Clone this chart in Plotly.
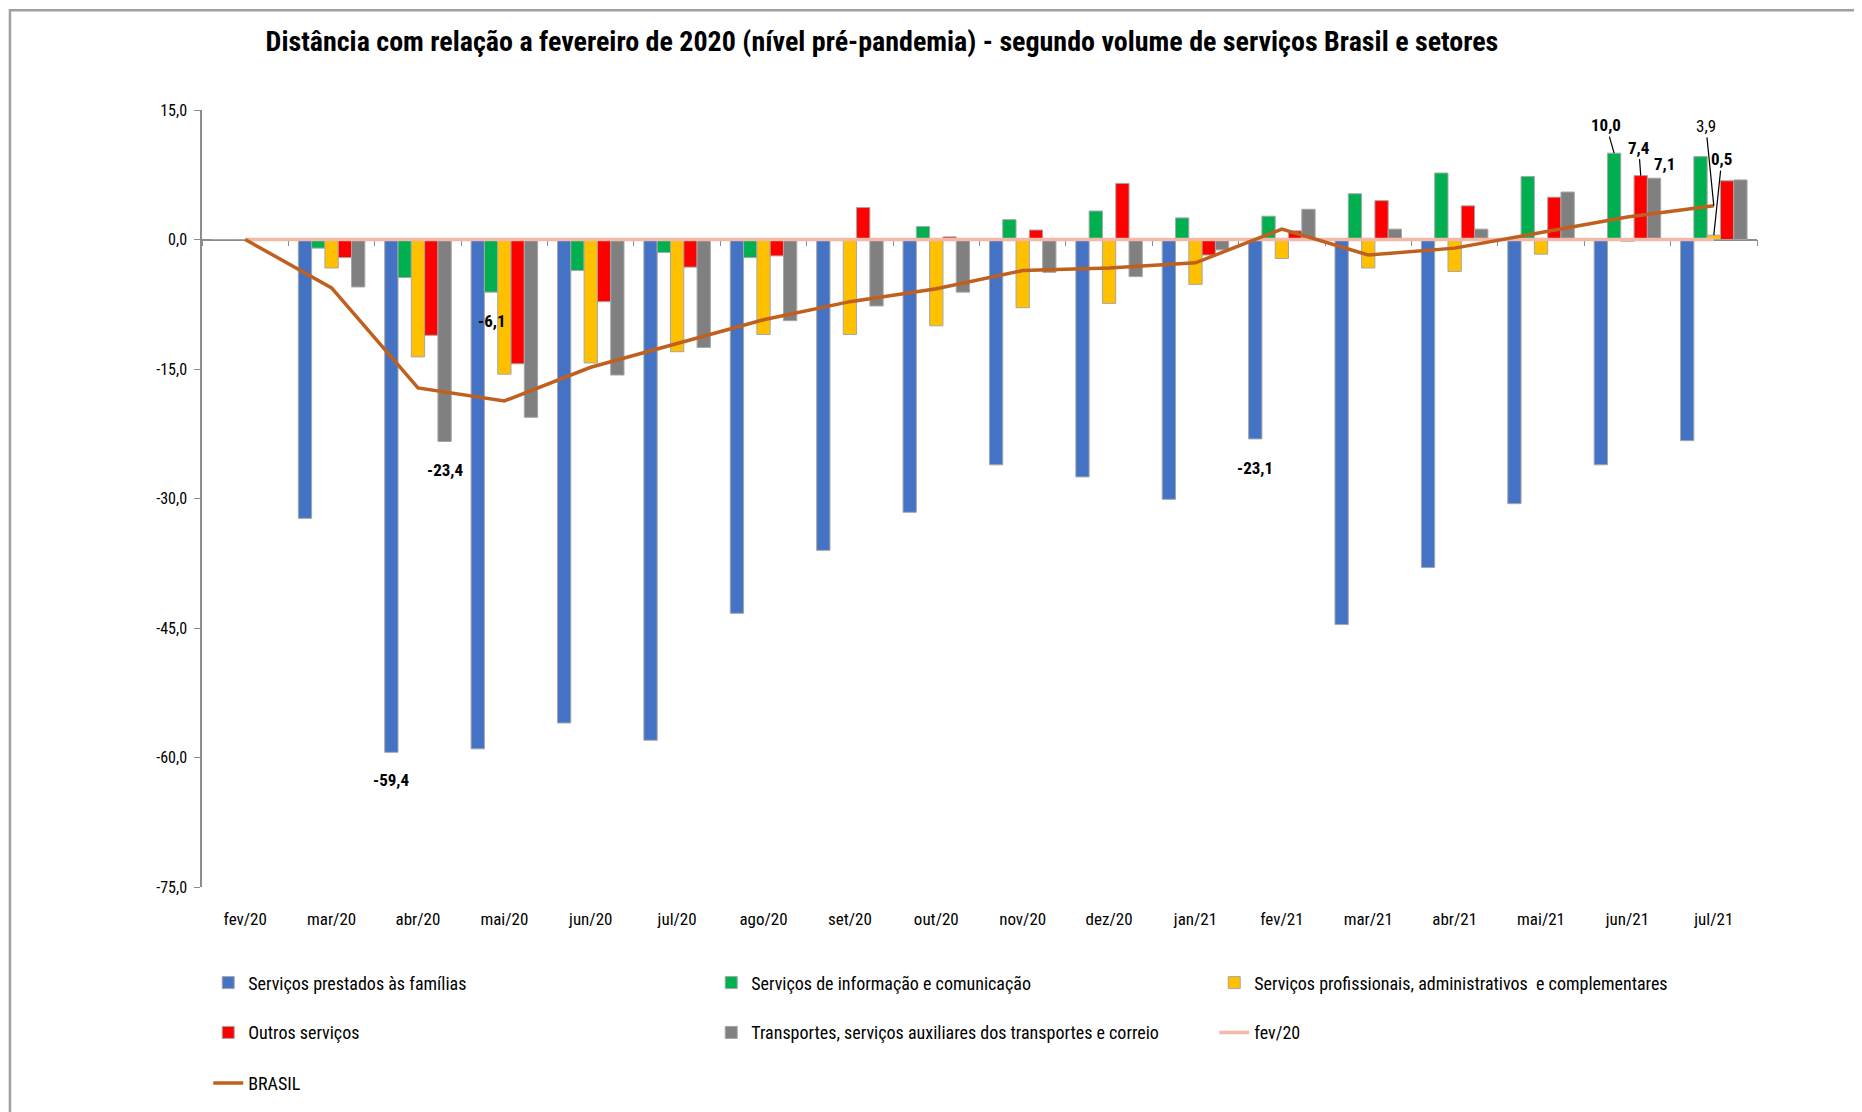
import plotly.graph_objects as go

# Dados (variação % em relação a fev/20)
meses = ["fev/20", "mar/20", "abr/20", "mai/20", "jun/20", "jul/20", "ago/20", "set/20", "out/20",
         "nov/20", "dez/20", "jan/21", "fev/21", "mar/21", "abr/21", "mai/21", "jun/21", "jul/21"]

familias = [0, -32.3, -59.4, -59.0, -56.0, -58.0, -43.3, -36.0, -31.6,
            -26.1, -27.5, -30.1, -23.1, -44.6, -38.0, -30.6, -26.1, -23.3]
informacao = [0, -1.0, -4.4, -6.1, -3.6, -1.5, -2.1, 0.0, 1.5,
              2.3, 3.3, 2.5, 2.7, 5.3, 7.7, 7.3, 10.0, 9.6]
profissionais = [0, -3.3, -13.6, -15.6, -14.3, -13.0, -11.0, -11.0, -10.0,
                 -7.9, -7.4, -5.2, -2.2, -3.3, -3.7, -1.7, -0.2, 0.5]
outros = [0, -2.1, -11.1, -14.4, -7.2, -3.2, -1.9, 3.7, 0.3,
          1.1, 6.5, -1.8, 1.0, 4.5, 3.9, 4.9, 7.4, 6.8]
transportes = [0, -5.5, -23.4, -20.6, -15.7, -12.5, -9.4, -7.7, -6.1,
               -3.8, -4.3, -1.2, 3.5, 1.2, 1.2, 5.5, 7.1, 6.9]
brasil = [0, -5.6, -17.2, -18.7, -14.8, -12.0, -9.3, -7.2, -5.7,
          -3.6, -3.3, -2.7, 1.2, -1.8, -1.0, 0.8, 2.6, 3.9]
base_fev20 = [0] * len(meses)

y_ticks = [15, 0, -15, -30, -45, -60, -75]
y_ticktext = ["15,0", "0,0", "-15,0", "-30,0", "-45,0", "-60,0", "-75,0"]

FONT = "Roboto Condensed"
BAR_LINE = dict(color="#A6A6A6", width=1)

series = [
    ("Serviços prestados às famílias", familias, "#4472C4", "legend"),
    ("Serviços de informação e comunicação", informacao, "#00B050", "legend"),
    ("Serviços profissionais, administrativos  e complementares", profissionais, "#FFC000", "legend"),
    ("Outros serviços", outros, "#FF0000", "legend2"),
    ("Transportes, serviços auxiliares dos transportes e correio", transportes, "#808080", "legend2"),
]

fig = go.Figure()
for name, vals, color, leg in series:
    fig.add_trace(go.Bar(x=meses, y=vals, name=name, marker=dict(color=color, line=BAR_LINE),
                         legend=leg))

fig.add_trace(go.Scatter(x=meses, y=base_fev20, name="fev/20", mode="lines",
                         line=dict(color="#F4B9A6", width=3.5), xaxis="x2", legend="legend2"))
fig.add_trace(go.Scatter(x=meses, y=brasil, name="BRASIL", mode="lines",
                         line=dict(color="#C0601F", width=3.5), xaxis="x2", legend="legend3"))

# rótulos de dados (deslocamento = posição da barra dentro do grupo)
bar_px = 1555 / len(meses) * 0.77 / 5
lab = dict(family=FONT, size=17, color="black")
labb = dict(family=FONT, size=17, color="black", weight="bold")


def bar_label(i, serie_idx, vals, dy, dx=0, arrow=False, ax=0, ay=0, font=labb, xref="x"):
    shift = (serie_idx - 2) * bar_px if serie_idx is not None else 0
    txt = f"{vals[i]:.1f}".replace(".", ",")
    if arrow:
        fig.add_annotation(x=meses[i], y=vals[i], xref=xref, text=txt, showarrow=True, arrowhead=0,
                           arrowwidth=1.2, arrowcolor="black", ax=ax, ay=ay, xshift=shift,
                           standoff=0, font=font)
    else:
        fig.add_annotation(x=meses[i], y=vals[i], xref=xref, text=txt, showarrow=False,
                           xshift=shift + dx, yshift=dy, font=font)


bar_label(2, 0, familias, -28)
bar_label(2, 4, transportes, -28)
bar_label(3, 1, informacao, -29)
bar_label(12, 0, familias, -29)
bar_label(16, 1, informacao, 0, arrow=True, ax=-8, ay=-28)
bar_label(16, 3, outros, 0, arrow=True, ax=-2, ay=-28)
bar_label(16, 4, transportes, 14, dx=10)
bar_label(17, 2, profissionais, 0, arrow=True, ax=8, ay=-76)
bar_label(17, None, brasil, 0, arrow=True, ax=-8, ay=-80, font=lab, xref="x2")

zero_pos = 75 / 90
leg_common = dict(orientation="h", x=0.004, xanchor="left", yanchor="middle", entrywidth=458,
                  entrywidthmode="pixels", bgcolor="rgba(0,0,0,0)",
                  font=dict(family=FONT, size=18))

fig.update_layout(
    width=1854, height=1104,
    margin=dict(l=194, r=105, t=102, b=224),
    paper_bgcolor="white", plot_bgcolor="rgba(0,0,0,0)",
    font=dict(family=FONT, size=17, color="black"),
    barmode="group", bargap=0.23, bargroupgap=0,
    title=dict(text="<b>Distância com relação a fevereiro de 2020 (nível pré-pandemia) - segundo volume de serviços Brasil e setores</b>",
               x=0.4714, xref="container", xanchor="center", y=0.9697, yanchor="middle",
               font=dict(family=FONT, size=28, color="black")),
    xaxis=dict(type="category", range=[-0.5, 17.5], showline=False, showgrid=False, zeroline=False,
               ticks="", ticklabelstandoff=20, tickfont=dict(family=FONT, size=17)),
    xaxis2=dict(type="category", range=[-0.5, 17.5], overlaying="x", anchor="free", position=zero_pos,
                showline=True, linecolor="#8C8C8C", linewidth=1.5, ticks="outside", tickson="boundaries",
                ticklen=6, tickcolor="#8C8C8C", showticklabels=False, showgrid=False, zeroline=False,
                layer="below traces"),
    yaxis=dict(range=[-75, 15], tickvals=y_ticks, ticktext=y_ticktext, showline=True, linecolor="#8C8C8C",
               linewidth=1.5, ticks="outside", ticklen=6, tickcolor="#8C8C8C", showgrid=False,
               zeroline=False, tickfont=dict(family=FONT, size=16), ticklabelstandoff=4),
    legend=dict(leg_common, y=-0.122),
    legend2=dict(leg_common, y=-0.186),
    legend3=dict(leg_common, y=-0.251),
)

# moldura da área do gráfico
fig.add_shape(type="rect", xref="paper", yref="paper", x0=-0.1235, x1=1.2, y0=-0.4, y1=1.1285,
              fillcolor="rgba(0,0,0,0)", line=dict(color="#A0A0A0", width=2.5), layer="below")

fig.write_html("out.html")
